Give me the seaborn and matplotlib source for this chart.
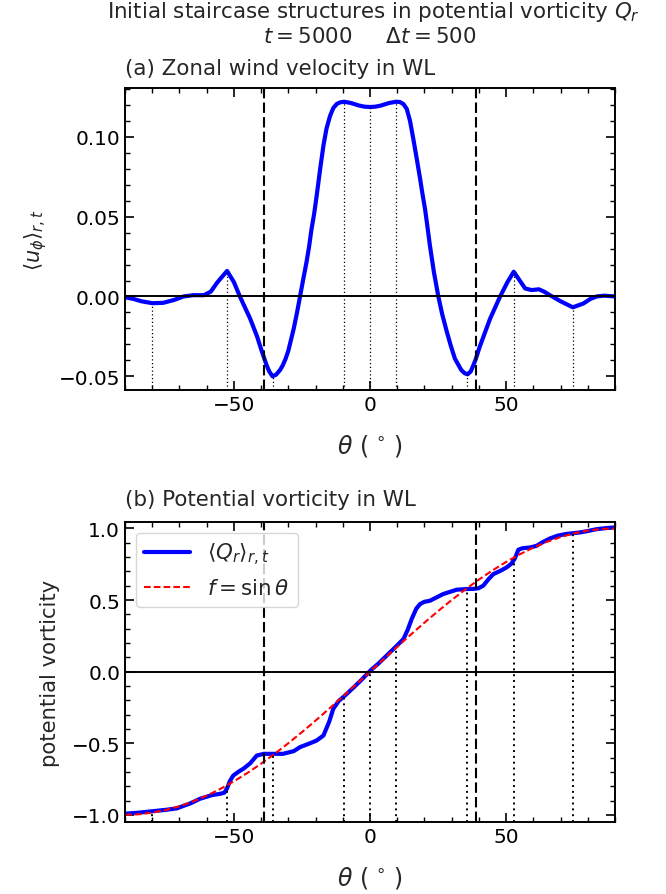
import matplotlib
matplotlib.use("Agg")
import matplotlib.pyplot as plt
from matplotlib.ticker import MultipleLocator
import seaborn as sns

# ---------------- data ----------------
theta_u = [-90, -87, -84, -80, -76, -72, -68.5, -65, -61, -58.5, -56, -52.5, -50,
           -47.8, -44, -41.5, -40, -39, -38, -37, -35.8, -34.5, -33, -32, -31, -30,
           -28, -26.8, -25.7, -24.5, -23.3, -22.4, -21.5, -20.5, -19.6, -18.3, -17.1,
           -16, -14.7, -13.5, -12.2, -11, -9.5, -7, -4, -2, 0, 2, 4, 7, 9.6, 11,
           12.3, 13.5, 14.7, 15.9, 17.1, 18.4, 19.2, 20.2, 21, 22, 23.5, 25.1, 26.5,
           28.2, 29.7, 31.2, 33.5, 34.7, 35.8, 37, 38, 38.9, 40.2, 41.5, 44.1, 47.8,
           50.5, 52.8, 55, 57, 59.4, 62, 64, 66.1, 70, 74.5, 78.4, 81, 83.3, 86, 90]
u_phi = [-0.0005, -0.0015, -0.003, -0.0042, -0.0040, -0.0022, 0.0, 0.0008, 0.0008,
         0.003, 0.009, 0.016, 0.009, 0.0, -0.014, -0.025, -0.033, -0.038, -0.043,
         -0.047, -0.050, -0.049, -0.046, -0.043, -0.039, -0.034, -0.020, -0.010,
         0.0, 0.011, 0.0217, 0.031, 0.042, 0.052, 0.063, 0.080, 0.0946, 0.105,
         0.113, 0.118, 0.1206, 0.1216, 0.1220, 0.1212, 0.1196, 0.1189, 0.1187,
         0.1189, 0.1196, 0.1212, 0.1220, 0.1218, 0.1205, 0.1175, 0.110, 0.0988,
         0.087, 0.0738, 0.065, 0.055, 0.045, 0.032, 0.015, 0.0, -0.011, -0.022,
         -0.031, -0.039, -0.046, -0.048, -0.0488, -0.047, -0.043, -0.039, -0.032,
         -0.026, -0.014, 0.0, 0.009, 0.0155, 0.010, 0.005, 0.004, 0.0045, 0.003,
         0.0008, -0.003, -0.0068, -0.0044, -0.0015, 0.0, 0.0005, 0.0]

theta_q = [-90, -85, -80, -75, -71, -66, -62.5, -58, -55, -53.5, -52.5, -51.5, -50.2,
           -48, -46.5, -44, -41.6, -39, -36, -32, -28, -25.7, -22, -19.6, -17.1, -15,
           -13.5, -11.5, -9.2, -6, -3, 0, 3, 6, 9.8, 12.3, 13.8, 15.3, 17, 18.4, 20,
           22, 26.9, 31.8, 35.5, 38, 39.8, 41.6, 43.5, 45.3, 48, 50.2, 52, 53.2, 54.5,
           56, 58.8, 61.2, 63.5, 66.1, 69, 72.3, 77.1, 80, 83.3, 87, 90]
q_r = [-0.992, -0.985, -0.975, -0.965, -0.955, -0.92, -0.888, -0.862, -0.853,
       -0.845, -0.815, -0.765, -0.725, -0.695, -0.678, -0.640, -0.586, -0.574,
       -0.574, -0.574, -0.555, -0.527, -0.500, -0.481, -0.446, -0.35, -0.26,
       -0.205, -0.167, -0.11, -0.055, 0.005, 0.055, 0.11, 0.18, 0.228, 0.29,
       0.367, 0.44, 0.472, 0.488, 0.495, 0.542, 0.572, 0.577, 0.578, 0.582, 0.60,
       0.645, 0.681, 0.705, 0.728, 0.755, 0.79, 0.851, 0.862, 0.867, 0.879, 0.905,
       0.93, 0.95, 0.962, 0.972, 0.982, 0.995, 1.003, 1.007]

theta_f = [-90, -85, -80, -75, -70, -65, -60, -55, -50, -45, -40, -35, -30, -25,
           -20, -15, -10, -5, 0, 5, 10, 15, 20, 25, 30, 35, 40, 45, 50, 55, 60, 65,
           70, 75, 80, 85, 90]
f_sin = [-1.0, -0.9962, -0.9848, -0.9659, -0.9397, -0.9063, -0.8660, -0.8192,
         -0.7660, -0.7071, -0.6428, -0.5736, -0.5, -0.4226, -0.3420, -0.2588,
         -0.1736, -0.0872, 0.0, 0.0872, 0.1736, 0.2588, 0.3420, 0.4226, 0.5,
         0.5736, 0.6428, 0.7071, 0.7660, 0.8192, 0.8660, 0.9063, 0.9397, 0.9659,
         0.9848, 0.9962, 1.0]

ext_theta = [-80, -52.5, -35.8, -9.5, 0, 9.6, 35.8, 52.8, 74.5]
u_ext = [-0.0042, 0.016, -0.050, 0.1220, 0.1187, 0.1220, -0.0488, 0.0155, -0.0068]
q_ext = [-0.975, -0.80, -0.574, -0.165, 0.005, 0.175, 0.577, 0.79, 0.962]

boundary_theta = [-39, 39]

# ---------------- style ----------------
sns.set_style("ticks")
plt.rcParams.update({
    "font.family": ["DejaVu Sans"],
    "mathtext.fontset": "dejavusans",
    "xtick.direction": "in", "ytick.direction": "in",
    "xtick.top": True, "ytick.right": True,
    "xtick.major.size": 6.5, "ytick.major.size": 6.5,
    "xtick.minor.size": 3.5, "ytick.minor.size": 3.5,
    "xtick.major.width": 1.2, "ytick.major.width": 1.2,
    "xtick.minor.width": 1.0, "ytick.minor.width": 1.0,
    "axes.linewidth": 1.4,
    "xtick.labelsize": 14.4, "ytick.labelsize": 14.4,
    "axes.edgecolor": "black",
    "xtick.color": "black", "ytick.color": "black",
    "lines.solid_joinstyle": "round",
    "lines.solid_capstyle": "round",
})

fig = plt.figure(figsize=(6.66, 8.95), dpi=100)
W, H = 666, 895
ax1 = fig.add_axes([125 / W, 1 - 391 / H, 490 / W, 302 / H])
ax2 = fig.add_axes([125 / W, 1 - 823 / H, 490 / W, 300 / H])

# ---- top panel ----
sns.lineplot(x=theta_u, y=u_phi, ax=ax1, color="blue", lw=3, legend=False)
ax1.set_xlim(-90, 90)
ax1.set_ylim(-0.0586, 0.1306)
ax1.axhline(0, color="black", lw=1.4)
for b in boundary_theta:
    ax1.axvline(b, color="black", lw=1.5, ls=(0, (5, 2)))
ax1.vlines(ext_theta, ax1.get_ylim()[0], u_ext, colors="black", lw=0.9,
           linestyles=(0, (1, 2)))
ax1.xaxis.set_major_locator(MultipleLocator(50))
ax1.xaxis.set_minor_locator(MultipleLocator(10))
ax1.yaxis.set_major_locator(MultipleLocator(0.05))
ax1.yaxis.set_minor_locator(MultipleLocator(0.01))
ax1.set_xlabel(r"$\theta\ (\,^\circ\,)$", fontsize=17, labelpad=13)
ax1.set_ylabel(r"$\langle u_\phi\rangle_{r,t}$", fontsize=15, labelpad=7)
ax1.text(0.0, 1 + 14 / 302, "(a) Zonal wind velocity in WL", transform=ax1.transAxes,
         ha="left", va="baseline", fontsize=15.4)

# ---- bottom panel ----
sns.lineplot(x=theta_q, y=q_r, ax=ax2, color="blue", lw=3,
             label=r"$\langle Q_r\rangle_{r,t}$")
sns.lineplot(x=theta_f, y=f_sin, ax=ax2, color="red", lw=1.5,
             label=r"$f=\sin\theta$")
ax2.lines[-1].set_linestyle((0, (3.2, 1.5)))
ax2.set_xlim(-90, 90)
ax2.set_ylim(-1.05, 1.045)
ax2.axhline(0, color="black", lw=1.4)
for b in boundary_theta:
    ax2.axvline(b, color="black", lw=1.5, ls=(0, (5, 2)))
ax2.vlines(ext_theta, ax2.get_ylim()[0], q_ext, colors="black", lw=1.4,
           linestyles=(0, (1, 2)))
ax2.xaxis.set_major_locator(MultipleLocator(50))
ax2.xaxis.set_minor_locator(MultipleLocator(10))
ax2.yaxis.set_major_locator(MultipleLocator(0.5))
ax2.yaxis.set_minor_locator(MultipleLocator(0.1))
ax2.set_xlabel(r"$\theta\ (\,^\circ\,)$", fontsize=17, labelpad=13)
ax2.set_ylabel("potential vorticity", fontsize=15.2, labelpad=8)
ax2.text(0.0, 1 + 17 / 300, "(b) Potential vorticity in WL", transform=ax2.transAxes,
         ha="left", va="baseline", fontsize=15.4)
ax2.legend(loc="upper left", fontsize=15.4, frameon=True, fancybox=True,
           framealpha=0.8, edgecolor="0.8", borderaxespad=0.5, handlelength=2.15)

# ---- title ----
fig.text(373 / W, 1 - 18 / H, r"Initial staircase structures in potential vorticity $Q_r$",
         ha="center", va="baseline", fontsize=15.4)
fig.text(370 / W, 1 - 43 / H, r"$t = 5000$     $\Delta t = 500$",
         ha="center", va="baseline", fontsize=15.4)

fig.savefig("out.png", dpi=100)
